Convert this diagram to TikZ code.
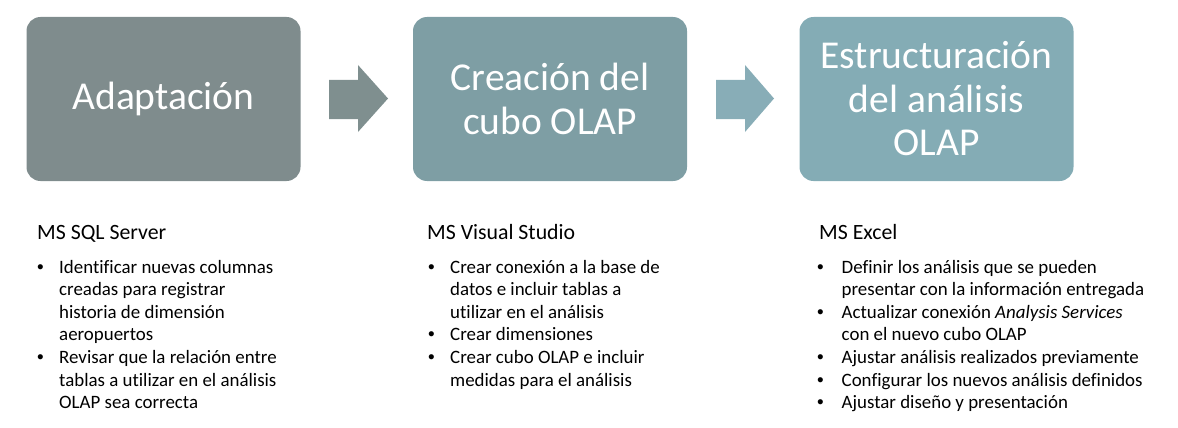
\documentclass[tikz,border=0pt]{standalone}
\usepackage{fontspec}
\setmainfont{Carlito}[Ligatures=NoCommon]
\newfontfamily\bulfont{Liberation Sans}
\usepackage{array}
\definecolor{boxA}{RGB}{127,140,141}
\definecolor{boxB}{RGB}{126,158,164}
\definecolor{boxC}{RGB}{132,172,181}
\definecolor{arrA}{RGB}{127,143,143}
\definecolor{arrB}{RGB}{136,173,183}
\tikzset{
  stagebox/.style={rounded corners=14pt, minimum width=274pt, minimum height=164pt,
    inner sep=0pt, text=white, align=center, font=\fontsize{39.5}{43.5}\selectfont},
  headtext/.style={anchor=base west, inner sep=0pt, font=\fontsize{21.8}{25}\selectfont},
  listtext/.style={anchor=base west, inner sep=0pt, font=\fontsize{18.9}{22.6}\selectfont},
}
\newcommand{\bul}{{\bulfont •}}
\newcommand{\bulletlist}[2]{\begin{tabular}[t]{@{}p{#1}@{}l@{}}#2\end{tabular}}
\begin{document}
\begin{tikzpicture}[x=1pt,y=-1pt]
\useasboundingbox (0,0) rectangle (1178,428);
% stage boxes
\node[stagebox, fill=boxA] (b1) at (163.5,99) {Adaptación};
\node[stagebox, fill=boxB] (b2) at (550,99) {Creación del\\cubo OLAP};
\node[stagebox, fill=boxC] (b3) at (936.5,99) {Estructuración\\del análisis\\OLAP};
% block arrows
\fill[arrA] (329,80) -- (358,80) -- (358,65) -- (388,98.5) -- (358,132) -- (358,119) -- (329,119) -- cycle;
\fill[arrB] (716,80) -- (745,80) -- (745,65) -- (774,98.5) -- (745,132) -- (745,119) -- (716,119) -- cycle;
% column 1
\node[headtext] (h1) at (37,239) {MS SQL Server};
\node[listtext] (l1) at (37,273) {\bulletlist{22pt}{%
 \bul & Identificar nuevas columnas\\
   & creadas para registrar\\
   & historia de dimensión\\
   & aeropuertos\\
 \bul & Revisar que la relación entre\\
   & tablas a utilizar en el análisis\\
   & OLAP sea correcta}};
% column 2
\node[headtext] (h2) at (427,239) {MS Visual Studio};
\node[listtext] (l2) at (428,273) {\bulletlist{22pt}{%
 \bul & Crear conexión a la base de\\
   & datos e incluir tablas a\\
   & utilizar en el análisis\\
 \bul & Crear dimensiones\\
 \bul & Crear cubo OLAP e incluir\\
   & medidas para el análisis}};
% column 3
\node[headtext] (h3) at (819,239) {MS Excel};
\node[listtext] (l3) at (817,273) {\bulletlist{24.5pt}{%
 \bul & Definir los análisis que se pueden\\
   & presentar con la información entregada\\
 \bul & Actualizar conexión \textit{Analysis Services}\\
   & con el nuevo cubo OLAP\\
 \bul & Ajustar análisis realizados previamente\\
 \bul & Configurar los nuevos análisis definidos\\
 \bul & Ajustar diseño y presentación}};
\end{tikzpicture}
\end{document}
